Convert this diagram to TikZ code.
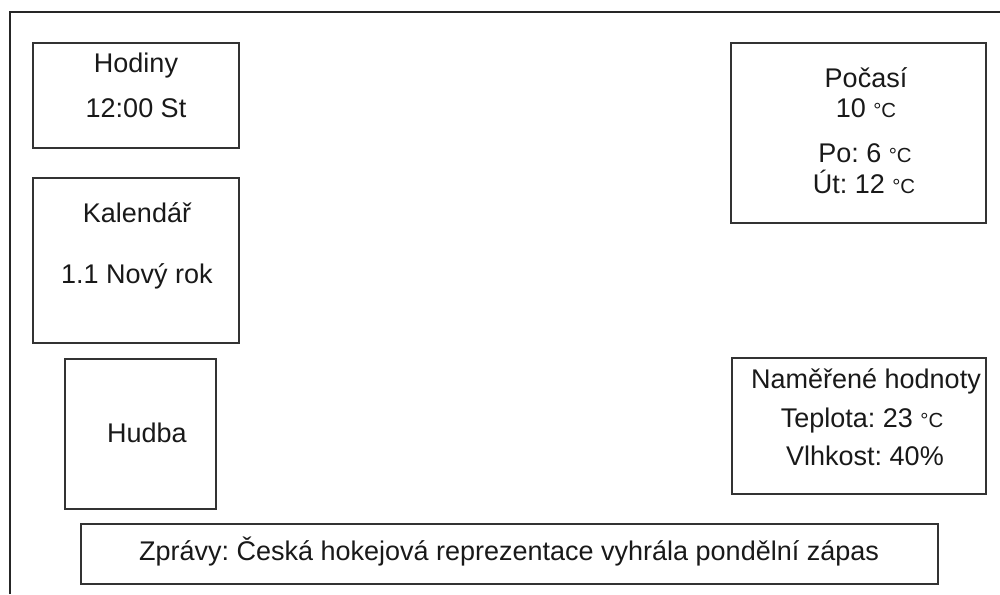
\documentclass[tikz,border=0pt]{standalone}
\usepackage{fontspec}
\setmainfont{Liberation Sans}
\usetikzlibrary{fit}
\frenchspacing
\newcommand{\degc}{{\fontsize{14.5}{16}\selectfont °C}}

\tikzset{
  panel/.style={draw=black!80, line width=1pt, inner sep=0pt},
  frameline/.style={draw=black!85, line width=1pt},
  txt/.style={font=\fontsize{19.2}{23}\selectfont, text=black!90, inner sep=0pt, anchor=base}
}

\begin{document}
\begin{tikzpicture}[x=0.025cm,y=-0.025cm]
\useasboundingbox (0,0) rectangle (1000,594);
% outer screen frame
\coordinate (fbl) at (10,594);
\coordinate (ftl) at (10,12);
\coordinate (ftr) at (1000,12);
\draw[frameline] (fbl) -- (ftl) -- (ftr);
% panels
\node[panel, fit={(33,43) (239,148)}] (hodiny) {};
\node[panel, fit={(33,178) (239,343)}] (kalendar) {};
\node[panel, fit={(65,359) (216,509)}] (hudba) {};
\node[panel, fit={(731,43) (986,223)}] (pocasi) {};
\node[panel, fit={(732,358) (986,494)}] (hodnoty) {};
\node[panel, fit={(81,524) (938,584)}] (zpravy) {};
% texts
\node[txt] (hodinyT) at (136,72) {Hodiny};
\node[txt] (hodinyV) at (136,117) {12:00 St};
\node[txt] (kalendarT) at (137,222) {Kalendář};
\node[txt] (kalendarV) at (137,283) {1.1 Nový rok};
\node[txt] (hudbaT) at (147,442) {Hudba};
\node[txt] (pocasiT) at (866,87) {Počasí};
\node[txt] (pocasiV) at (866,117) {10 \degc};
\node[txt] (pocasiPo) at (865,162) {Po: 6 \degc};
\node[txt] (pocasiUt) at (864,193) {Út: 12 \degc};
\node[txt] (hodnotyT) at (866,388) {Naměřené hodnoty};
\node[txt] (hodnotyTep) at (862,427) {Teplota: 23 \degc};
\node[txt] (hodnotyVlh) at (865,465) {Vlhkost: 40\%};
\node[txt] (zpravyT) at (509,560) {Zprávy: Česká hokejová reprezentace vyhrála pondělní zápas};
\end{tikzpicture}
\end{document}
